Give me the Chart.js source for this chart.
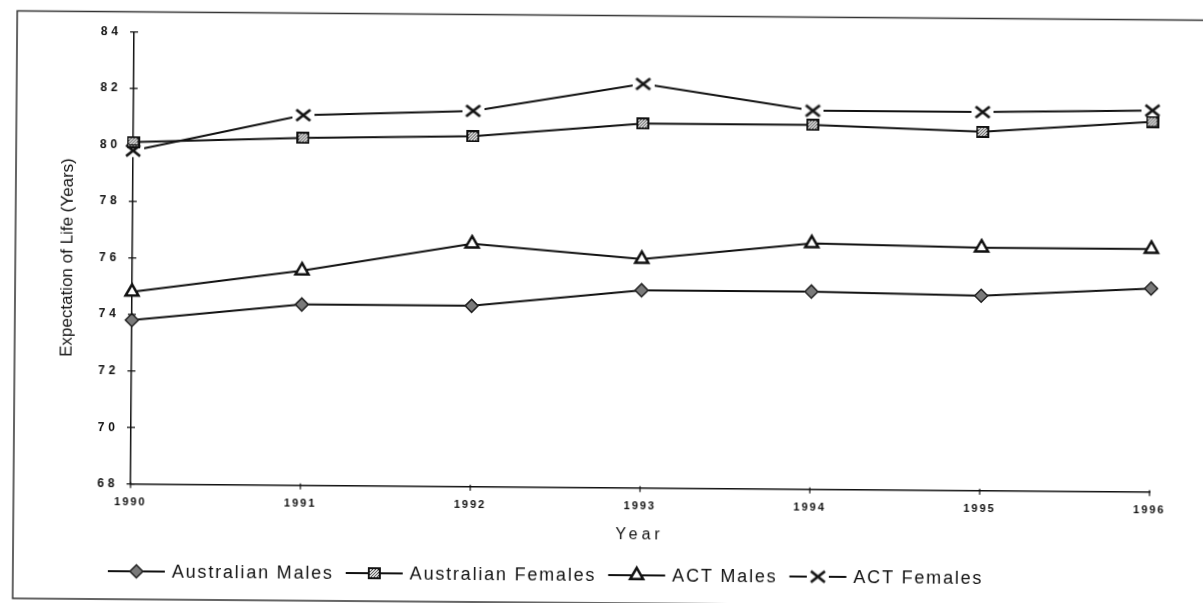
<!DOCTYPE html>
<html>
<head>
<meta charset="utf-8">
<title>Expectation of Life, 1990–1996</title>
<script src="https://cdn.jsdelivr.net/npm/chart.js@4/dist/chart.umd.min.js"></script>
<style>
  html, body { margin: 0; padding: 0; background: #fff; overflow: hidden; }
  #wrap {
    position: absolute; left: 0; top: 0; width: 1203px; height: 620px;
    transform: rotate(0.45deg); transform-origin: 601px 301px;
  }
  canvas { display: block; }
</style>
</head>
<body>
<div id="wrap"><canvas id="chart" width="1203" height="620"></canvas></div>
<script>
// Expectation of life at birth, Australia and ACT, 1990-1996
const years = ['1990', '1991', '1992', '1993', '1994', '1995', '1996'];
const australianMales   = [73.8, 74.4, 74.4, 75.0, 75.0, 74.9, 75.2];
const australianFemales = [80.1, 80.3, 80.4, 80.9, 80.9, 80.7, 81.1];
const actMales          = [74.8, 75.6, 76.6, 76.1, 76.7, 76.6, 76.6];
const actFemales        = [79.8, 81.1, 81.3, 82.3, 81.4, 81.4, 81.5];
const yTicks = [68, 70, 72, 74, 76, 78, 80, 82, 84];

const INK = '#111';
const FONT = "'Liberation Sans', Arial, sans-serif";

// --- marker images -------------------------------------------------------
function hatchedSquare() {
  const c = document.createElement('canvas');
  c.width = 13; c.height = 12;
  const g = c.getContext('2d');
  g.fillStyle = '#111';
  g.fillRect(0, 0, 13, 12);
  g.fillStyle = '#fff';
  for (let y = 2; y < 10; y++) {
    for (let x = 2; x < 11; x++) {
      if ((x + y) % 3 !== 0) g.fillRect(x, y, 1, 1);
    }
  }
  return c;
}
function boldCross() {
  const c = document.createElement('canvas');
  c.width = 22; c.height = 15;
  const g = c.getContext('2d');
  g.fillStyle = '#fff';
  g.fillRect(0, 1, 22, 13);
  g.strokeStyle = '#111';
  g.lineWidth = 2.8;
  g.lineCap = 'butt';
  g.beginPath();
  g.moveTo(4, 2); g.lineTo(18, 13);
  g.moveTo(18, 2); g.lineTo(4, 13);
  g.stroke();
  return c;
}
const squareImg = hatchedSquare();
const crossImg = boldCross();

// --- scales that draw their text with letter spacing ---------------------
const textSpacing = {
  x: { ticks: '2px', title: '4px' },
  y: { ticks: '4px', title: '0px' }
};
function withSpacing(scale, key, draw) {
  const ctx = scale.ctx;
  const prev = ctx.letterSpacing;
  ctx.letterSpacing = (textSpacing[scale.id] || {})[key] || '0px';
  draw();
  ctx.letterSpacing = prev || '0px';
}
const BaseCategory = Chart.CategoryScale || Chart.registry.getScale('category');
const BaseLinear = Chart.LinearScale || Chart.registry.getScale('linear');

class SpacedCategoryScale extends BaseCategory {
  drawLabels(area) { withSpacing(this, 'ticks', () => super.drawLabels(area)); }
  drawTitle() { withSpacing(this, 'title', () => super.drawTitle()); }
}
SpacedCategoryScale.id = 'spacedCategory';
SpacedCategoryScale.defaults = BaseCategory.defaults;

class SpacedLinearScale extends BaseLinear {
  drawLabels(area) { withSpacing(this, 'ticks', () => super.drawLabels(area)); }
  drawTitle() { withSpacing(this, 'title', () => super.drawTitle()); }
}
SpacedLinearScale.id = 'spacedLinear';
SpacedLinearScale.defaults = BaseLinear.defaults;

Chart.register(SpacedCategoryScale, SpacedLinearScale);

// --- plugins ---------------------------------------------------------------
const framePlugin = {
  id: 'frame',
  beforeDraw(chart) {
    const ctx = chart.ctx;
    ctx.save();
    ctx.strokeStyle = '#333';
    ctx.lineWidth = 1.5;
    ctx.strokeRect(15, 15.5, 1300, 587.5);
    ctx.restore();
  }
};

// small tick marks crossing each axis line
const crossTicksPlugin = {
  id: 'crossTicks',
  afterDraw(chart) {
    const { ctx, scales: { x, y }, chartArea } = chart;
    ctx.save();
    ctx.strokeStyle = INK;
    ctx.lineWidth = 1.2;
    ctx.beginPath();
    y.ticks.forEach((t, i) => {
      const py = y.getPixelForTick(i);
      ctx.moveTo(chartArea.left - 4, py);
      ctx.lineTo(chartArea.left + 4, py);
    });
    x.ticks.forEach((t, i) => {
      const px = x.getPixelForTick(i);
      ctx.moveTo(px, chartArea.bottom - 2);
      ctx.lineTo(px, chartArea.bottom + 4);
    });
    ctx.stroke();
    ctx.restore();
  }
};

// legend row: a short line with the series marker, then the series name
const lineLegendPlugin = {
  id: 'lineLegend',
  afterDraw(chart, args, opts) {
    const ctx = chart.ctx;
    const sampleLen = 57, gap = 7, itemGap = 12;
    let x = opts.left;
    const y = opts.top;
    ctx.save();
    ctx.font = '18px ' + FONT;
    ctx.letterSpacing = '1.8px';
    ctx.textBaseline = 'middle';
    ctx.textAlign = 'left';
    chart.data.datasets.forEach(ds => {
      ctx.strokeStyle = ds.borderColor;
      ctx.lineWidth = ds.borderWidth;
      ctx.beginPath();
      ctx.moveTo(x, y);
      ctx.lineTo(x + sampleLen, y);
      ctx.stroke();
      ctx.fillStyle = ds.pointBackgroundColor;
      ctx.strokeStyle = ds.pointBorderColor;
      ctx.lineWidth = ds.pointBorderWidth;
      Chart.helpers.drawPoint(ctx, {
        pointStyle: ds.pointStyle, radius: ds.pointRadius,
        borderWidth: ds.pointBorderWidth, rotation: 0
      }, x + sampleLen / 2, y);
      ctx.fillStyle = INK;
      const tx = x + sampleLen + gap;
      ctx.fillText(ds.label, tx, y + 1);
      x = tx + ctx.measureText(ds.label).width + itemGap;
    });
    ctx.restore();
  }
};

// --- chart -------------------------------------------------------------------
const PLOT = { left: 132, right: 1151, top: 35.6, bottom: 487.7 };
const CANVAS = { w: 1203, h: 620 };
const X_AXIS_H = 60;

const lineStyle = { borderColor: INK, borderWidth: 2, tension: 0, fill: false };

new Chart(document.getElementById('chart'), {
  type: 'line',
  data: {
    labels: years,
    datasets: [
      Object.assign({
        label: 'Australian Males', data: australianMales,
        pointStyle: 'rectRot', pointRadius: 6.5,
        pointBackgroundColor: '#7a7a7a', pointBorderColor: '#222', pointBorderWidth: 1.5
      }, lineStyle),
      Object.assign({
        label: 'Australian Females', data: australianFemales,
        pointStyle: squareImg, pointRadius: 6,
        pointBackgroundColor: '#111', pointBorderColor: '#111', pointBorderWidth: 1
      }, lineStyle),
      Object.assign({
        label: 'ACT Males', data: actMales,
        pointStyle: 'triangle', pointRadius: 7.5,
        pointBackgroundColor: '#fff', pointBorderColor: INK, pointBorderWidth: 2.5
      }, lineStyle),
      Object.assign({
        label: 'ACT Females', data: actFemales,
        pointStyle: crossImg, pointRadius: 7,
        pointBackgroundColor: '#fff', pointBorderColor: INK, pointBorderWidth: 2.8
      }, lineStyle)
    ]
  },
  options: {
    responsive: false,
    animation: false,
    devicePixelRatio: 1,
    layout: {
      padding: {
        left: 0,
        top: PLOT.top,
        right: CANVAS.w - PLOT.right,
        bottom: CANVAS.h - PLOT.bottom - X_AXIS_H
      }
    },
    plugins: {
      legend: { display: false },
      tooltip: { enabled: false },
      lineLegend: { left: 110, top: 575 }
    },
    scales: {
      x: {
        type: 'spacedCategory',
        offset: false,
        grid: { display: false, drawTicks: false },
        border: { display: true, color: INK, width: 1.5 },
        ticks: {
          color: INK, padding: 12, maxRotation: 0, autoSkip: false,
          font: { family: FONT, size: 11, weight: 'bold' }
        },
        title: {
          display: true, text: 'Year', color: INK,
          font: { family: FONT, size: 16 },
          padding: { top: 0, bottom: 3.4 }
        },
        afterFit(scale) { scale.height = X_AXIS_H; }
      },
      y: {
        type: 'spacedLinear',
        min: yTicks[0],
        max: yTicks[yTicks.length - 1],
        afterBuildTicks(scale) { scale.ticks = yTicks.map(v => ({ value: v })); },
        grid: { display: false, drawTicks: false },
        border: { display: true, color: INK, width: 1.5 },
        ticks: {
          color: INK, padding: 12,
          font: { family: FONT, size: 12, weight: 'bold' }
        },
        title: {
          display: true, text: 'Expectation of Life (Years)', color: INK,
          font: { family: FONT, size: 17 },
          padding: { top: 56.8, bottom: 0 }
        },
        afterFit(scale) { scale.width = PLOT.left; }
      }
    }
  },
  plugins: [framePlugin, crossTicksPlugin, lineLegendPlugin]
});
</script>
</body>
</html>
